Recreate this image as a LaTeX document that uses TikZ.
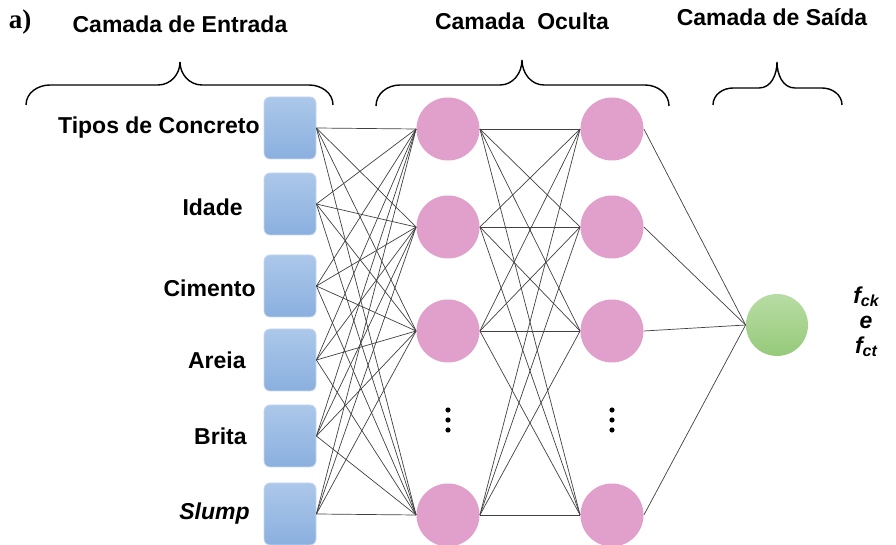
\documentclass[tikz,border=0pt]{standalone}
\usepackage{fontspec}
\setmainfont{Liberation Sans}
\newfontfamily\timesfont{Liberation Serif}
\usepackage{tikz}

\begin{document}
\begin{tikzpicture}[x=0.5pt, y=-0.5pt]
		\definecolor{boxtop}{RGB}{172,199,233}
		\definecolor{boxbot}{RGB}{138,176,223}
		\definecolor{boxline}{RGB}{196,214,240}
		\definecolor{hidpink}{RGB}{224,160,203}
		\definecolor{outtop}{RGB}{184,220,164}
		\definecolor{outbot}{RGB}{150,202,122}
		\tikzstyle{inbox} = [rectangle, rounded corners=3pt, minimum width=26pt, minimum height=31pt, draw=boxline, top color=boxtop, bottom color=boxbot]
		\tikzstyle{hidden} = [circle, minimum size=31.5pt, inner sep=0pt, fill=hidpink]
		\tikzstyle{outnode} = [circle, minimum size=31pt, inner sep=0pt, top color=outtop, bottom color=outbot]
		\tikzstyle{inname} = [anchor=east, inner sep=0pt, font=\bfseries\fontsize{11.5}{13}\selectfont]
		\tikzstyle{layername} = [inner sep=0pt, font=\bfseries\fontsize{11.5}{13}\selectfont]
		\tikzstyle{link} = [draw=black!75, line width=0.35pt]
		\tikzstyle{bracepath} = [line width=0.7pt]
		
		\useasboundingbox (0,0) rectangle (896,545);
		
		\node (tag) at (20,22) {\timesfont\bfseries\fontsize{13.5}{15}\selectfont a)};
		\node (title_in) [layername] at (180,24) {Camada de Entrada};
		\node (title_hid) [layername] at (522,21) {Camada\ \ Oculta};
		\node (title_out) [layername] at (772,17) {Camada de Saída};
		
		% chaves
		\coordinate (brace_in_l) at (26,105);
		\coordinate (brace_in_r) at (333,105);
		\coordinate (brace_hid_l) at (376,106);
		\coordinate (brace_hid_r) at (669,106);
		\coordinate (brace_out_l) at (713,105);
		\coordinate (brace_out_r) at (842,105);
		\draw [bracepath] (brace_in_l) to[out=90, in=180] (50,85) -- (158,85) to[out=0, in=-90] (180,62)
			to[out=-90, in=180] (202,85) -- (309,85) to[out=0, in=90] (brace_in_r);
		\draw [bracepath] (brace_hid_l) to[out=90, in=180] (400,85) -- (500,85) to[out=0, in=-90] (522,60)
			to[out=-90, in=180] (544,85) -- (645,85) to[out=0, in=90] (brace_hid_r);
		\draw [bracepath] (brace_out_l) to[out=90, in=180] (733,88) -- (759,88) to[out=0, in=-90] (777,62)
			to[out=-90, in=180] (795,88) -- (822,88) to[out=0, in=90] (brace_out_r);
		
		\node (tipo) [inbox] at (290,128) {};
		\node (idade) [inbox] at (290,204) {};
		\node (cimento) [inbox] at (290,286) {};
		\node (areia) [inbox] at (290,360) {};
		\node (brita) [inbox] at (290,436) {};
		\node (slump) [inbox] at (290,514) {};
		
		\node (tipo_txt) [inname] at (260,128) {Tipos de Concreto};
		\node (idade_txt) [inname] at (243,207) {Idade};
		\node (cimento_txt) [inname] at (256,288) {Cimento};
		\node (areia_txt) [inname] at (246,360) {Areia};
		\node (brita_txt) [inname] at (247,436) {Brita};
		\node (slump_txt) [inname] at (250,514) {\itshape Slump};
		
		\node (h1a) [hidden] at (448,129) {};
		\node (h1b) [hidden] at (448,227) {};
		\node (h1c) [hidden] at (448,331) {};
		\node (h1d) [hidden] at (448,515) {};
		\node (h2a) [hidden] at (612,129) {};
		\node (h2b) [hidden] at (612,227) {};
		\node (h2c) [hidden] at (612,331) {};
		\node (h2d) [hidden] at (612,515) {};
		
		\node (saida) [outnode] at (777,325) {};
		\node (fck_txt) [inner sep=0pt, align=center, font=\bfseries\itshape\fontsize{11.5}{12.5}\selectfont] at (866,322) {f{\fontsize{8}{8}\selectfont\raisebox{-0.4ex}{ck}}\\e\\f{\fontsize{8}{8}\selectfont\raisebox{-0.4ex}{ct}}};
		
		% reticencias
		\fill (448,410) circle (1.3pt);
		\fill (448,420) circle (1.3pt);
		\fill (448,430) circle (1.3pt);
		\fill (612,410) circle (1.3pt);
		\fill (612,420) circle (1.3pt);
		\fill (612,430) circle (1.3pt);
		
		\draw [link] (tipo.east) -- (h1a.west);
		\draw [link] (tipo.east) -- (h1b.west);
		\draw [link] (tipo.east) -- (h1c.west);
		\draw [link] (tipo.east) -- (h1d.west);
		\draw [link] (idade.east) -- (h1a.west);
		\draw [link] (idade.east) -- (h1b.west);
		\draw [link] (idade.east) -- (h1c.west);
		\draw [link] (idade.east) -- (h1d.west);
		\draw [link] (cimento.east) -- (h1a.west);
		\draw [link] (cimento.east) -- (h1b.west);
		\draw [link] (cimento.east) -- (h1c.west);
		\draw [link] (cimento.east) -- (h1d.west);
		\draw [link] (areia.east) -- (h1a.west);
		\draw [link] (areia.east) -- (h1b.west);
		\draw [link] (areia.east) -- (h1c.west);
		\draw [link] (areia.east) -- (h1d.west);
		\draw [link] (brita.east) -- (h1a.west);
		\draw [link] (brita.east) -- (h1b.west);
		\draw [link] (brita.east) -- (h1c.west);
		\draw [link] (brita.east) -- (h1d.west);
		\draw [link] (slump.east) -- (h1a.west);
		\draw [link] (slump.east) -- (h1b.west);
		\draw [link] (slump.east) -- (h1c.west);
		\draw [link] (slump.east) -- (h1d.west);
		
		\draw [link] (h1a.east) -- (h2a.west);
		\draw [link] (h1a.east) -- (h2b.west);
		\draw [link] (h1a.east) -- (h2c.west);
		\draw [link] (h1a.east) -- (h2d.west);
		\draw [link] (h1b.east) -- (h2a.west);
		\draw [link] (h1b.east) -- (h2b.west);
		\draw [link] (h1b.east) -- (h2c.west);
		\draw [link] (h1b.east) -- (h2d.west);
		\draw [link] (h1c.east) -- (h2a.west);
		\draw [link] (h1c.east) -- (h2b.west);
		\draw [link] (h1c.east) -- (h2c.west);
		\draw [link] (h1c.east) -- (h2d.west);
		\draw [link] (h1d.east) -- (h2a.west);
		\draw [link] (h1d.east) -- (h2b.west);
		\draw [link] (h1d.east) -- (h2c.west);
		\draw [link] (h1d.east) -- (h2d.west);
		
		\draw [link] (h2a.east) -- (saida.west);
		\draw [link] (h2b.east) -- (saida.west);
		\draw [link] (h2c.east) -- (saida.west);
		\draw [link] (h2d.east) -- (saida.west);
	\end{tikzpicture}
\end{document}
